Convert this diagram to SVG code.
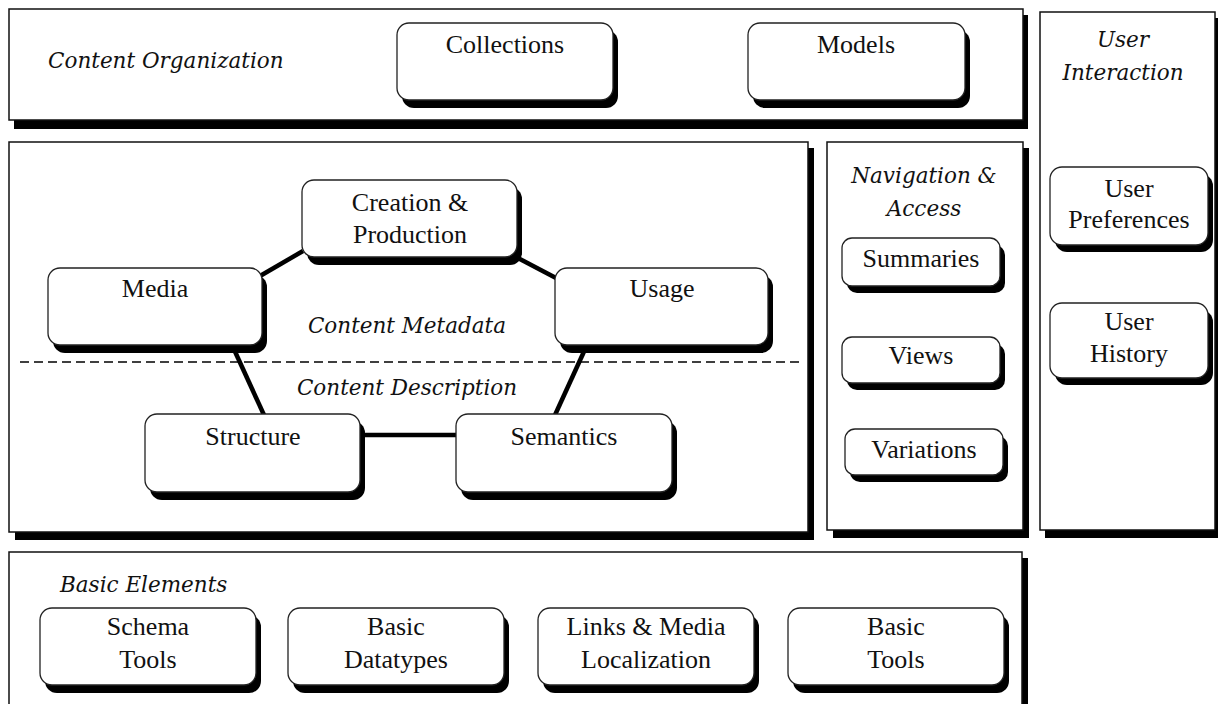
<svg xmlns="http://www.w3.org/2000/svg" width="1218" height="704" viewBox="0 0 1218 704">
<style>
.bg{fill:#fff}
.box{fill:#fff;stroke:#111;stroke-width:1.5}
.sh{fill:#000}
.node{fill:#fff;stroke:#222;stroke-width:1.3}
.lbl{font-family:"Liberation Serif","DejaVu Serif",serif;font-size:26px;fill:#111;text-anchor:middle}
.ttl{font-family:"DejaVu Serif","Liberation Serif",serif;font-style:italic;font-size:21.5px;fill:#111}
.mid{text-anchor:middle}
.conn{stroke:#000;stroke-width:4.5;fill:none}
.dash{stroke:#000;stroke-width:1.3;stroke-dasharray:9 5;fill:none}
</style>
<rect class="bg" x="0" y="0" width="1218" height="704"/>

<g id="content-organization">
<rect class="sh" x="14" y="15" width="1014" height="114"/>
<rect class="box" x="9" y="9" width="1014" height="111"/>
<text class="ttl" x="48" y="68">Content Organization</text>
</g>
<g id="collections">
<rect class="sh" x="402" y="30" width="216" height="78" rx="12"/>
<rect class="node" x="397" y="23" width="216" height="77" rx="12"/>
<text class="lbl" x="505" y="53">Collections</text>
</g>
<g id="models">
<rect class="sh" x="753" y="30" width="217" height="78" rx="12"/>
<rect class="node" x="748" y="23" width="217" height="77" rx="12"/>
<text class="lbl" x="856" y="53">Models</text>
</g>

<g id="user-interaction">
<rect class="sh" x="1045" y="18" width="180" height="520"/>
<rect class="box" x="1040" y="12" width="175" height="518"/>
<text class="ttl mid" x="1123" y="47">User</text>
<text class="ttl mid" x="1123" y="80">Interaction</text>
</g>
<g id="user-preferences">
<rect class="sh" x="1055" y="174" width="158" height="78" rx="12"/>
<rect class="node" x="1050" y="167" width="158" height="78" rx="12"/>
<text class="lbl" x="1129" y="197">User</text>
<text class="lbl" x="1129" y="228">Preferences</text>
</g>
<g id="user-history">
<rect class="sh" x="1055" y="310" width="158" height="75" rx="12"/>
<rect class="node" x="1050" y="303" width="158" height="75" rx="12"/>
<text class="lbl" x="1129" y="330">User</text>
<text class="lbl" x="1129" y="362">History</text>
</g>

<g id="navigation-access">
<rect class="sh" x="833" y="148" width="196" height="390"/>
<rect class="box" x="827" y="142" width="196" height="388"/>
<text class="ttl mid" x="924" y="183">Navigation &amp;</text>
<text class="ttl mid" x="924" y="216">Access</text>
</g>
<g id="summaries">
<rect class="sh" x="847" y="245" width="158" height="48" rx="10"/>
<rect class="node" x="842" y="238" width="158" height="48" rx="10"/>
<text class="lbl" x="921" y="267">Summaries</text>
</g>
<g id="views">
<rect class="sh" x="847" y="344" width="158" height="46" rx="10"/>
<rect class="node" x="842" y="337" width="158" height="46" rx="10"/>
<text class="lbl" x="921" y="364">Views</text>
</g>
<g id="variations">
<rect class="sh" x="850" y="436" width="158" height="46" rx="10"/>
<rect class="node" x="845" y="429" width="158" height="46" rx="10"/>
<text class="lbl" x="924" y="458">Variations</text>
</g>

<g id="content-metadata">
<rect class="sh" x="15" y="148" width="799" height="392"/>
<rect class="box" x="9" y="142" width="799" height="390"/>
<line class="dash" x1="20" y1="362" x2="800" y2="362"/>
<text class="ttl mid" x="407" y="333">Content Metadata</text>
<text class="ttl mid" x="407" y="395">Content Description</text>
</g>

<g id="connectors">
<line class="conn" x1="260" y1="276" x2="303" y2="251"/>
<line class="conn" x1="516" y1="257" x2="556" y2="278"/>
<line class="conn" x1="232" y1="345" x2="264" y2="415"/>
<line class="conn" x1="587" y1="345" x2="555" y2="415"/>
<line class="conn" x1="359" y1="435" x2="457" y2="435"/>
</g>

<g id="creation-production">
<rect class="sh" x="307" y="187" width="215" height="78" rx="12"/>
<rect class="node" x="302" y="180" width="215" height="77" rx="12"/>
<text class="lbl" x="410" y="211">Creation &amp;</text>
<text class="lbl" x="410" y="243">Production</text>
</g>
<g id="media">
<rect class="sh" x="53" y="275" width="214" height="78" rx="12"/>
<rect class="node" x="48" y="268" width="214" height="77" rx="12"/>
<text class="lbl" x="155" y="297">Media</text>
</g>
<g id="usage">
<rect class="sh" x="560" y="275" width="213" height="78" rx="12"/>
<rect class="node" x="555" y="268" width="213" height="77" rx="12"/>
<text class="lbl" x="662" y="297">Usage</text>
</g>
<g id="structure">
<rect class="sh" x="150" y="421" width="215" height="79" rx="12"/>
<rect class="node" x="145" y="414" width="215" height="78" rx="12"/>
<text class="lbl" x="253" y="445">Structure</text>
</g>
<g id="semantics">
<rect class="sh" x="461" y="421" width="216" height="79" rx="12"/>
<rect class="node" x="456" y="414" width="216" height="78" rx="12"/>
<text class="lbl" x="564" y="445">Semantics</text>
</g>

<g id="basic-elements">
<rect class="sh" x="15" y="558" width="1013" height="160"/>
<rect class="box" x="9" y="552" width="1013" height="160"/>
<text class="ttl" x="60" y="592">Basic Elements</text>
</g>
<g id="schema-tools">
<rect class="sh" x="45" y="615" width="216" height="78" rx="12"/>
<rect class="node" x="40" y="608" width="216" height="77" rx="12"/>
<text class="lbl" x="148" y="635">Schema</text>
<text class="lbl" x="148" y="668">Tools</text>
</g>
<g id="basic-datatypes">
<rect class="sh" x="293" y="615" width="216" height="78" rx="12"/>
<rect class="node" x="288" y="608" width="216" height="77" rx="12"/>
<text class="lbl" x="396" y="635">Basic</text>
<text class="lbl" x="396" y="668">Datatypes</text>
</g>
<g id="links-media-localization">
<rect class="sh" x="543" y="615" width="216" height="78" rx="12"/>
<rect class="node" x="538" y="608" width="216" height="77" rx="12"/>
<text class="lbl" x="646" y="635">Links &amp; Media</text>
<text class="lbl" x="646" y="668">Localization</text>
</g>
<g id="basic-tools">
<rect class="sh" x="793" y="615" width="216" height="78" rx="12"/>
<rect class="node" x="788" y="608" width="216" height="77" rx="12"/>
<text class="lbl" x="896" y="635">Basic</text>
<text class="lbl" x="896" y="668">Tools</text>
</g>
</svg>
